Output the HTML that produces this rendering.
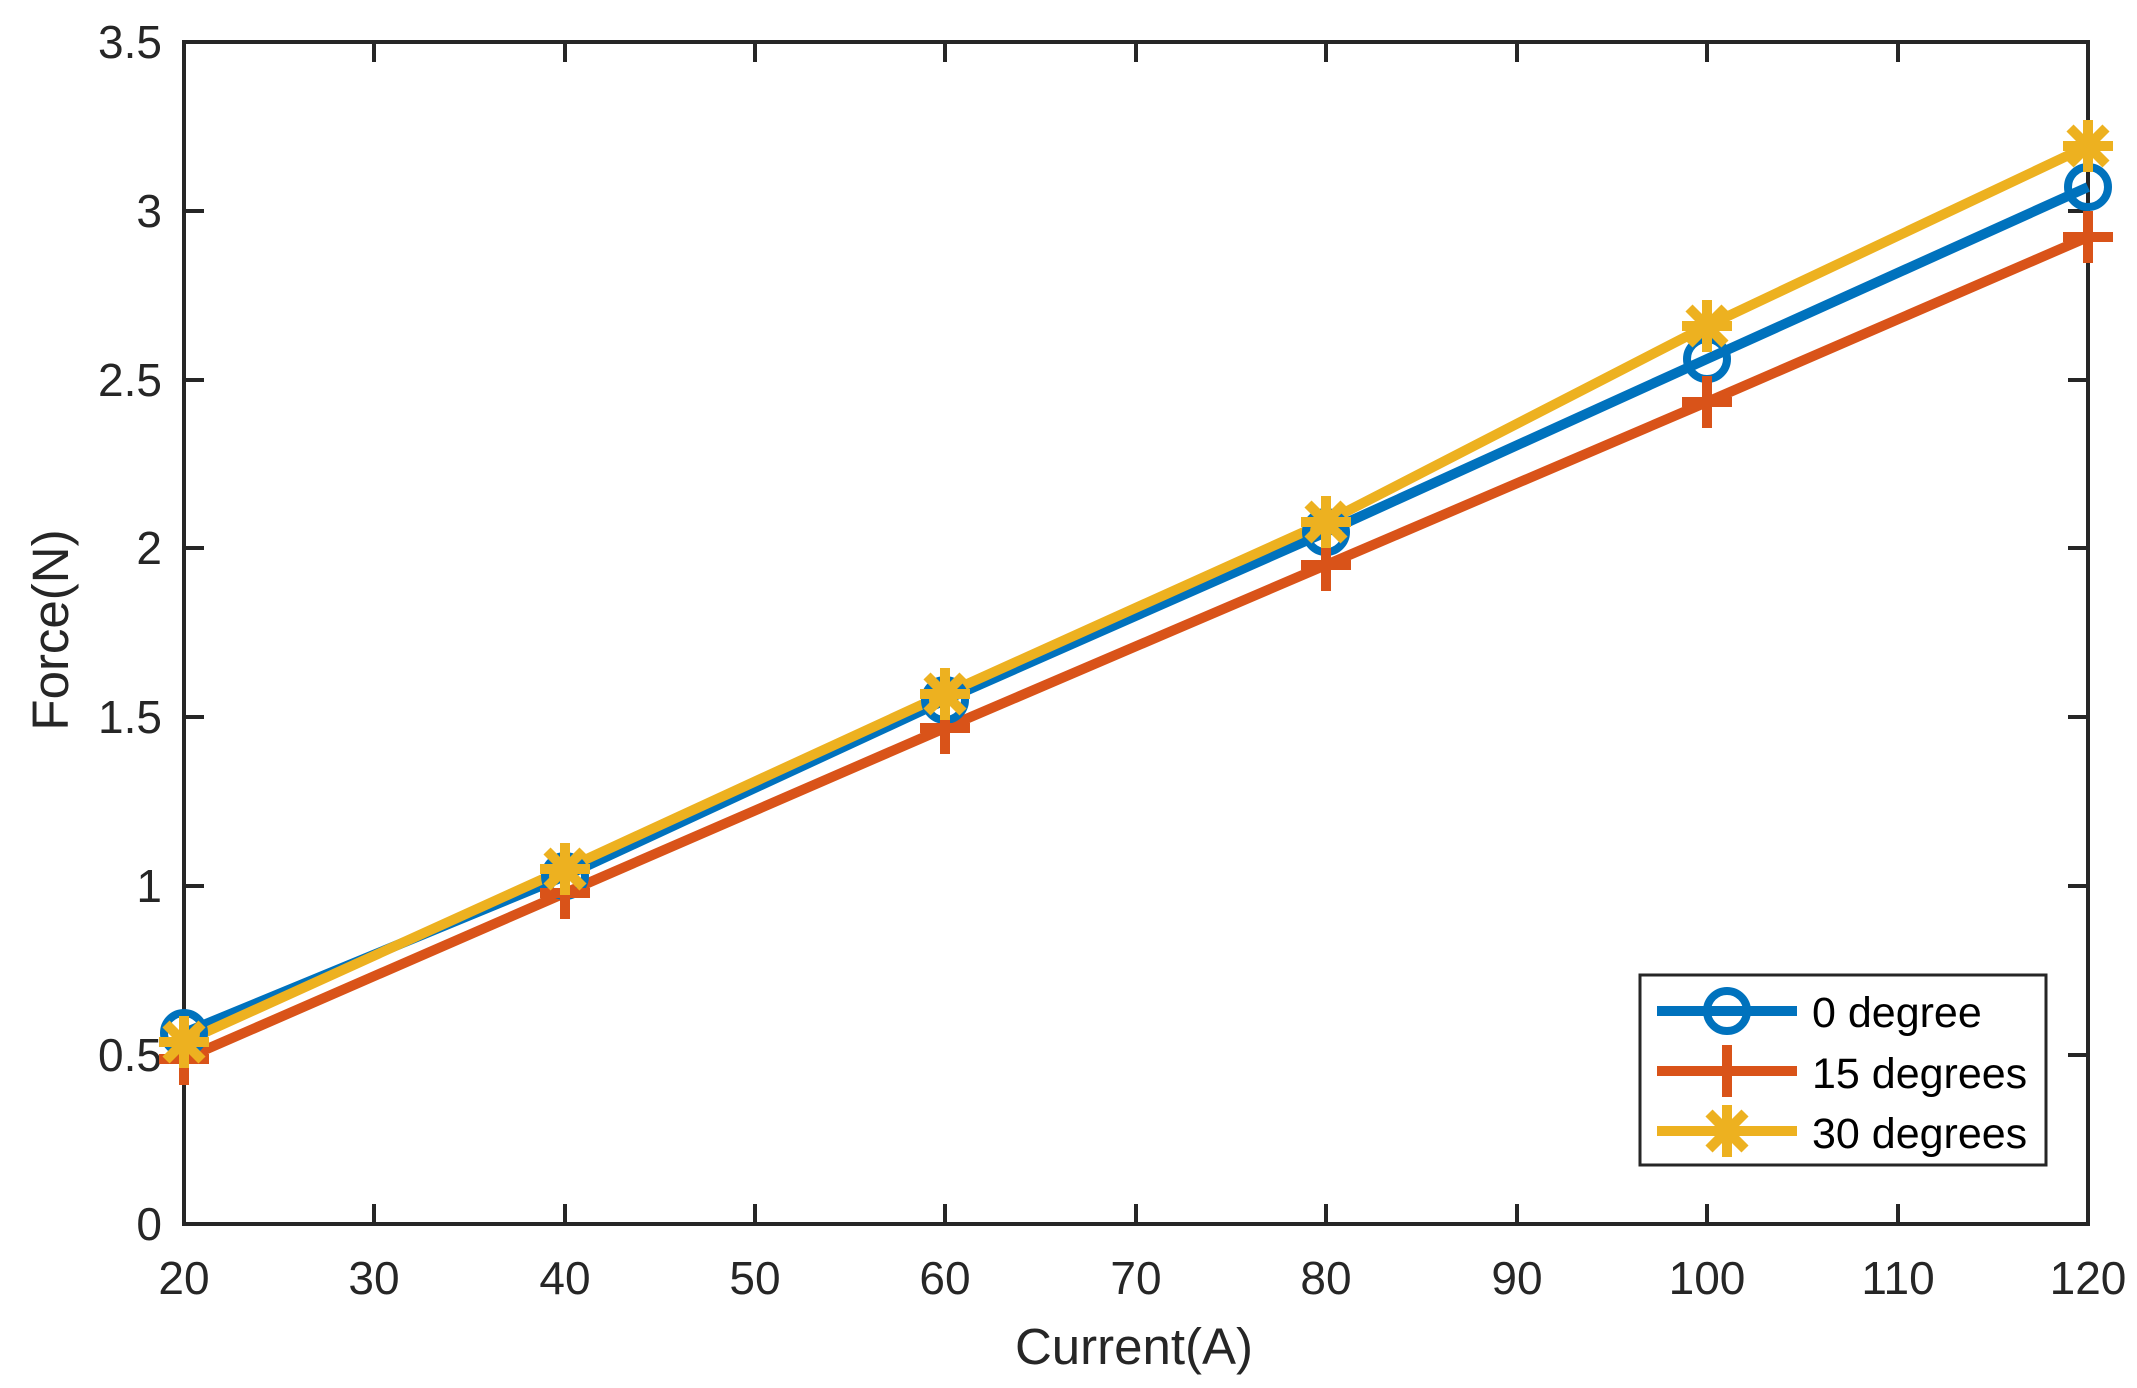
<!DOCTYPE html>
<html><head><meta charset="utf-8"><style>body{margin:0;background:#fff}svg{display:block}text{font-family:"Liberation Sans",Arial,sans-serif;fill:#262626}</style></head>
<body>
<svg width="2137" height="1388" viewBox="0 0 2137 1388" xmlns="http://www.w3.org/2000/svg">
<defs>
<g id="circ"><circle r="20" fill="none" stroke="#0072BD" stroke-width="8"/></g>
<g id="plus" stroke="#D95319" stroke-width="10"><line x1="-25" y1="0" x2="25" y2="0"/><line x1="0" y1="-26" x2="0" y2="26"/></g>
<g id="star" stroke="#EDB120" stroke-width="10"><line x1="-25" y1="0" x2="25" y2="0"/><line x1="0" y1="-26" x2="0" y2="26"/><line x1="-18" y1="-18" x2="18" y2="18"/><line x1="-18" y1="18" x2="18" y2="-18"/></g>
</defs>
<rect x="184" y="42" width="1904" height="1182" fill="none" stroke="#262626" stroke-width="4"/>
<g stroke="#262626" stroke-width="4">
<line x1="374" y1="1224" x2="374" y2="1204"/><line x1="374" y1="42" x2="374" y2="62"/>
<line x1="565" y1="1224" x2="565" y2="1204"/><line x1="565" y1="42" x2="565" y2="62"/>
<line x1="755" y1="1224" x2="755" y2="1204"/><line x1="755" y1="42" x2="755" y2="62"/>
<line x1="945" y1="1224" x2="945" y2="1204"/><line x1="945" y1="42" x2="945" y2="62"/>
<line x1="1136" y1="1224" x2="1136" y2="1204"/><line x1="1136" y1="42" x2="1136" y2="62"/>
<line x1="1326" y1="1224" x2="1326" y2="1204"/><line x1="1326" y1="42" x2="1326" y2="62"/>
<line x1="1517" y1="1224" x2="1517" y2="1204"/><line x1="1517" y1="42" x2="1517" y2="62"/>
<line x1="1707" y1="1224" x2="1707" y2="1204"/><line x1="1707" y1="42" x2="1707" y2="62"/>
<line x1="1898" y1="1224" x2="1898" y2="1204"/><line x1="1898" y1="42" x2="1898" y2="62"/>
<line x1="184" y1="1055" x2="204" y2="1055"/><line x1="2088" y1="1055" x2="2068" y2="1055"/>
<line x1="184" y1="886" x2="204" y2="886"/><line x1="2088" y1="886" x2="2068" y2="886"/>
<line x1="184" y1="717" x2="204" y2="717"/><line x1="2088" y1="717" x2="2068" y2="717"/>
<line x1="184" y1="548" x2="204" y2="548"/><line x1="2088" y1="548" x2="2068" y2="548"/>
<line x1="184" y1="380" x2="204" y2="380"/><line x1="2088" y1="380" x2="2068" y2="380"/>
<line x1="184" y1="211" x2="204" y2="211"/><line x1="2088" y1="211" x2="2068" y2="211"/>
</g>
<g font-size="46" text-anchor="middle">
<text x="184" y="1294">20</text><text x="374" y="1294">30</text><text x="565" y="1294">40</text><text x="755" y="1294">50</text><text x="945" y="1294">60</text><text x="1136" y="1294">70</text><text x="1326" y="1294">80</text><text x="1517" y="1294">90</text><text x="1707" y="1294">100</text><text x="1898" y="1294">110</text><text x="2088" y="1294">120</text>
</g>
<g font-size="46" text-anchor="end">
<text x="162" y="1240">0</text><text x="162" y="1071">0.5</text><text x="162" y="902">1</text><text x="162" y="733">1.5</text><text x="162" y="564">2</text><text x="162" y="396">2.5</text><text x="162" y="227">3</text><text x="162" y="58">3.5</text>
</g>
<text x="1134" y="1364" font-size="51" text-anchor="middle">Current(A)</text>
<text transform="translate(68,630) rotate(-90)" font-size="51" text-anchor="middle">Force(N)</text>
<g fill="none" stroke-width="10" stroke-linejoin="round">
<polyline stroke="#0072BD" points="184,1033 565,876 945,700 1326,532 1707,359 2088,187"/>
<polyline stroke="#D95319" points="184,1059 565,893 945,728 1326,565 1707,402 2088,237"/>
<polyline stroke="#EDB120" points="184,1042 565,869 945,694 1326,522 1707,326 2088,146"/>
</g>
<use href="#circ" x="184" y="1033"/><use href="#circ" x="565" y="876"/><use href="#circ" x="945" y="700"/><use href="#circ" x="1326" y="532"/><use href="#circ" x="1707" y="359"/><use href="#circ" x="2088" y="187"/>
<use href="#plus" x="184" y="1059"/><use href="#plus" x="565" y="893"/><use href="#plus" x="945" y="728"/><use href="#plus" x="1326" y="565"/><use href="#plus" x="1707" y="402"/><use href="#plus" x="2088" y="237"/>
<use href="#star" x="184" y="1042"/><use href="#star" x="565" y="869"/><use href="#star" x="945" y="694"/><use href="#star" x="1326" y="522"/><use href="#star" x="1707" y="326"/><use href="#star" x="2088" y="146"/>
<rect x="1640" y="975" width="406" height="190" fill="#fff" stroke="#262626" stroke-width="3"/>
<line x1="1657" y1="1011" x2="1797" y2="1011" stroke="#0072BD" stroke-width="10"/><use href="#circ" x="1727" y="1011"/>
<line x1="1657" y1="1071" x2="1797" y2="1071" stroke="#D95319" stroke-width="10"/><use href="#plus" x="1727" y="1071"/>
<line x1="1657" y1="1131" x2="1797" y2="1131" stroke="#EDB120" stroke-width="10"/><use href="#star" x="1727" y="1131"/>
<g font-size="43">
<text x="1812" y="1027" style="fill:#000">0 degree</text><text x="1812" y="1088" style="fill:#000">15 degrees</text><text x="1812" y="1148" style="fill:#000">30 degrees</text>
</g>
</svg>
</body></html>
